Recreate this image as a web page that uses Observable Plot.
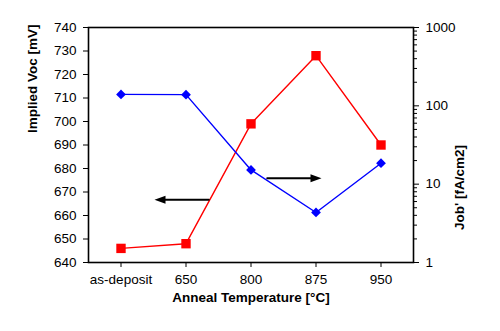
<!DOCTYPE html>
<html>
<head>
<meta charset="utf-8">
<script src="https://cdn.jsdelivr.net/npm/d3@7"></script>
<script src="https://cdn.jsdelivr.net/npm/@observablehq/plot@0.6"></script>
<style>
  html, body { margin: 0; padding: 0; background: #fff; }
  #chart svg { display: block; }
</style>
</head>
<body>
<div id="chart"></div>
<script>
// ---- Data ----
const categories = ["as-deposit", "650", "800", "875", "950"];
const impliedVoc = [646, 648, 699, 728, 690];          // mV, left axis (red squares)
const jobPrime = [140, 139, 15.2, 4.35, 18.5];           // fA/cm2, right axis (blue diamonds, log)
const leftDomain = [640, 740];
const leftTicks = [640, 650, 660, 670, 680, 690, 700, 710, 720, 730, 740];
const rightDomain = [1, 1000];
const rightMajorTicks = [1, 10, 100, 1000];
const rightMinorTicks = [2,3,4,5,6,7,8,9,20,30,40,50,60,70,80,90,200,300,400,500,600,700,800,900];
// annotation arrows (x in category-index units, y in left-axis mV units)
const arrowsData = [
  {x1: 1.35, y1: 666.7, x2: 0.515, y2: 666.7},
  {x1: 2.25, y1: 675.9, x2: 3.085, y2: 675.9}
];
const xTitle = "Anneal Temperature [°C]";
const yLeftTitle = "Implied Voc [mV]";
const yRightTitle = "Job' [fA/cm2]";

// map log right-axis values onto the left linear axis
const logSpan = Math.log10(rightDomain[1]) - Math.log10(rightDomain[0]);
const toLeft = v => leftDomain[0] + (Math.log10(v) - Math.log10(rightDomain[0])) / logSpan * (leftDomain[1] - leftDomain[0]);
const fromLeft = y => Math.pow(10, Math.log10(rightDomain[0]) + (y - leftDomain[0]) / (leftDomain[1] - leftDomain[0]) * logSpan);

const redData = categories.map((c, i) => ({x: i, y: impliedVoc[i]}));
const blueData = categories.map((c, i) => ({x: i, y: toLeft(jobPrime[i])}));

const arrowHead = {
  draw(ctx) {
    ctx.moveTo(0, 0);
    ctx.lineTo(-11, -4);
    ctx.lineTo(-11, 4);
    ctx.closePath();
  }
};

const font = "'Liberation Sans', Arial, sans-serif";

const chart = Plot.plot({
  width: 500,
  height: 331,
  marginLeft: 88,
  marginRight: 87,
  marginTop: 27,
  marginBottom: 69,
  style: {fontFamily: font, fontSize: "13.5px", color: "black", background: "white", overflow: "visible"},
  x: {type: "linear", domain: [-0.5, categories.length - 0.5]},
  y: {type: "linear", domain: leftDomain},
  marks: [
    Plot.axisX({ticks: d3.range(categories.length), tickFormat: i => categories[i], tickSize: 5, tickPadding: 7, label: null, fontSize: "13.5px"}),
    Plot.axisY({ticks: leftTicks, tickSize: 5, tickPadding: 7, label: null, fontSize: "13.5px"}),
    Plot.axisY({anchor: "right", ticks: rightMajorTicks.map(toLeft), tickFormat: d => String(Math.round(fromLeft(d))), tickSize: 5, tickPadding: 7, label: null, fontSize: "13.5px"}),
    Plot.axisY({anchor: "right", ticks: rightMinorTicks.map(toLeft), tickFormat: () => "", tickSize: 3, label: null}),
    Plot.frame({stroke: "black", strokeWidth: 1.6}),
    Plot.line(redData, {x: "x", y: "y", stroke: "#ff0000", strokeWidth: 1.4}),
    Plot.line(blueData, {x: "x", y: "y", stroke: "#0000ff", strokeWidth: 1.4}),
    Plot.dot(redData, {x: "x", y: "y", symbol: "square", r: 5.3, fill: "#ff0000", stroke: null}),
    Plot.dot(blueData, {x: "x", y: "y", symbol: "diamond2", r: 4.4, fill: "#0000ff", stroke: null}),
    Plot.arrow(arrowsData, {x1: "x1", y1: "y1", x2: "x2", y2: "y2", stroke: "black", strokeWidth: 2, headLength: 0, insetEnd: 8}),
    Plot.dot(arrowsData, {x: "x2", y: "y2", symbol: arrowHead, fill: "black", stroke: null, rotate: d => d.x2 < d.x1 ? 180 : 0}),
    Plot.text([xTitle], {frameAnchor: "bottom", dy: 39, fontWeight: "bold", fontSize: 13.5, fill: "black"}),
    Plot.text([yLeftTitle], {frameAnchor: "left", dx: -56, dy: -12, rotate: -90, fontWeight: "bold", fontSize: 13.5, fill: "black"}),
    Plot.text([yRightTitle], {frameAnchor: "right", dx: 46, rotate: -90, fontWeight: "bold", fontSize: 13.5, fill: "black"})
  ]
});
document.getElementById("chart").appendChild(chart);
</script>
</body>
</html>
